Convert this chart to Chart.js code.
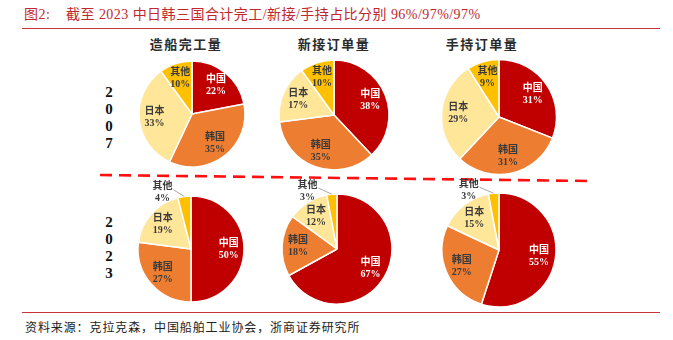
<!DOCTYPE html>
<html>
<head>
<meta charset="utf-8">
<script src="https://cdn.jsdelivr.net/npm/chart.js@4.4.1/dist/chart.umd.min.js"></script>
<style>
  html, body { margin: 0; padding: 0; background: #fff; }
  body { width: 673px; height: 340px; position: relative; overflow: hidden;
         font-family: "Liberation Serif", "Noto Sans CJK SC", serif; }
  .abs { position: absolute; white-space: nowrap; }
  #title { left: 24px; top: 5px; font-size: 14px; line-height: 20px; color: #C0282D; letter-spacing: 0.45px; }
  .rule { position: absolute; left: 22px; width: 638px; height: 1px; background: #C8343A; }
  #source { left: 25px; top: 320px; font-size: 12px; line-height: 16px; color: #222; letter-spacing: 0.9px; }
  .panel-title { font-size: 13px; line-height: 16px; font-weight: bold; color: #2b2b2b; letter-spacing: 1.5px;
                 transform: translateX(-50%); }
  .year { font-size: 15px; font-weight: bold; line-height: 17px; color: #111; text-align: center; width: 20px; }
  canvas { position: absolute; }
</style>
</head>
<body>
<div id="title" class="abs">图2:&nbsp;&nbsp;&nbsp;&nbsp;截至 2023 中日韩三国合计完工/新接/手持占比分别 96%/97%/97%</div>
<div class="rule" style="top:28px"></div>
<div class="rule" style="top:312px"></div>
<div id="source" class="abs">资料来源：克拉克森，中国船舶工业协会，浙商证券研究所</div>

<svg class="abs" style="left:0;top:0" width="673" height="340">
  <line x1="100" y1="175" x2="590" y2="181" stroke="#FF1010" stroke-width="2.6" stroke-dasharray="12 7"/>
</svg>

<script>
// Shares of world shipbuilding (%), slice order: China, Korea, Japan, others
const regions = ['中国', '韩国', '日本', '其他'];
const panelTitles = ['造船完工量', '新接订单量', '手持订单量'];
const years = ['2007', '2023'];

const completed2007 = [22, 35, 33, 10];
const newOrders2007 = [38, 35, 17, 10];
const orderbook2007 = [31, 31, 29, 9];
const completed2023 = [50, 27, 19, 4];
const newOrders2023 = [67, 18, 12, 3];
const orderbook2023 = [55, 27, 15, 3];

const sliceColors = ['#C00000', '#ED7D31', '#FFE699', '#FFC000'];
const labelColors = ['#FFFFFF', '#3A3A3A', '#3A3A3A', '#3A3A3A'];

// Layout of the 2x3 grid of pies: centre and radius of each
const pieLayout = [
  { data: completed2007, cx: 191.5, cy: 114, r: 53 },
  { data: newOrders2007, cx: 334,   cy: 115, r: 55 },
  { data: orderbook2007, cx: 499,   cy: 117, r: 57.5 },
  { data: completed2023, cx: 191,   cy: 249, r: 53 },
  { data: newOrders2023, cx: 336.5, cy: 249, r: 55 },
  { data: orderbook2023, cx: 499,   cy: 250, r: 57 }
];
const titleCenters = [186, 334, 482];
const yearTops = [84, 214];

// Column headings and vertical year labels
panelTitles.forEach((t, i) => {
  const d = document.createElement('div');
  d.className = 'abs panel-title';
  d.style.left = titleCenters[i] + 'px';
  d.style.top = '37px';
  d.textContent = t;
  document.body.appendChild(d);
});
years.forEach((y, i) => {
  const d = document.createElement('div');
  d.className = 'abs year';
  d.style.left = '99px';
  d.style.top = yearTops[i] + 'px';
  d.innerHTML = y.split('').join('<br>');
  document.body.appendChild(d);
});

const LABEL_FONT = 'bold 10px "Liberation Serif", "Noto Sans CJK SC", serif';

// Draws "region / share%" inside each slice; thin slices get an outside label with a leader line
const sliceLabels = {
  id: 'sliceLabels',
  afterDatasetsDraw(chart) {
    const ctx = chart.ctx;
    const meta = chart.getDatasetMeta(0);
    const values = chart.data.datasets[0].data;
    ctx.save();
    ctx.font = LABEL_FONT;
    ctx.textAlign = 'center';
    ctx.textBaseline = 'middle';
    meta.data.forEach((arc, i) => {
      const p = arc.getProps(['x', 'y', 'startAngle', 'endAngle', 'outerRadius'], true);
      const mid = (p.startAngle + p.endAngle) / 2;
      const v = values[i];
      let tx, ty;
      if (v >= 5) {
        const d = p.outerRadius * 0.71;
        tx = p.x + Math.cos(mid) * d;
        ty = p.y + Math.sin(mid) * d;
        ctx.fillStyle = labelColors[i];
      } else {
        const a = -Math.PI / 2 - 0.47;
        const d = p.outerRadius + 10;
        tx = p.x + Math.cos(a) * d;
        ty = p.y + Math.sin(a) * d;
        const ex = p.x + Math.cos(mid) * p.outerRadius;
        const ey = p.y + Math.sin(mid) * p.outerRadius;
        ctx.strokeStyle = '#A6A6A6';
        ctx.lineWidth = 1;
        ctx.beginPath();
        ctx.moveTo(tx + 11, ty - 3);
        ctx.lineTo(ex, ey);
        ctx.stroke();
        ctx.fillStyle = '#3A3A3A';
      }
      ctx.fillText(regions[i], tx, ty - 6);
      ctx.fillText(v + '%', tx, ty + 6);
    });
    ctx.restore();
  }
};

const CW = 200, CH = 170;
pieLayout.forEach(p => {
  const c = document.createElement('canvas');
  c.width = CW; c.height = CH;
  c.style.width = CW + 'px'; c.style.height = CH + 'px';
  c.style.left = (p.cx - CW / 2) + 'px';
  c.style.top = (p.cy - CH / 2) + 'px';
  document.body.appendChild(c);
  new Chart(c, {
    type: 'pie',
    data: {
      labels: regions,
      datasets: [{
        data: p.data,
        backgroundColor: sliceColors,
        borderColor: '#FFFFFF',
        borderWidth: 1.5
      }]
    },
    options: {
      responsive: false,
      animation: false,
      devicePixelRatio: 1,
      radius: p.r,
      layout: { padding: 0 },
      plugins: { legend: { display: false }, tooltip: { enabled: false } }
    },
    plugins: [sliceLabels]
  });
});
</script>
</body>
</html>
